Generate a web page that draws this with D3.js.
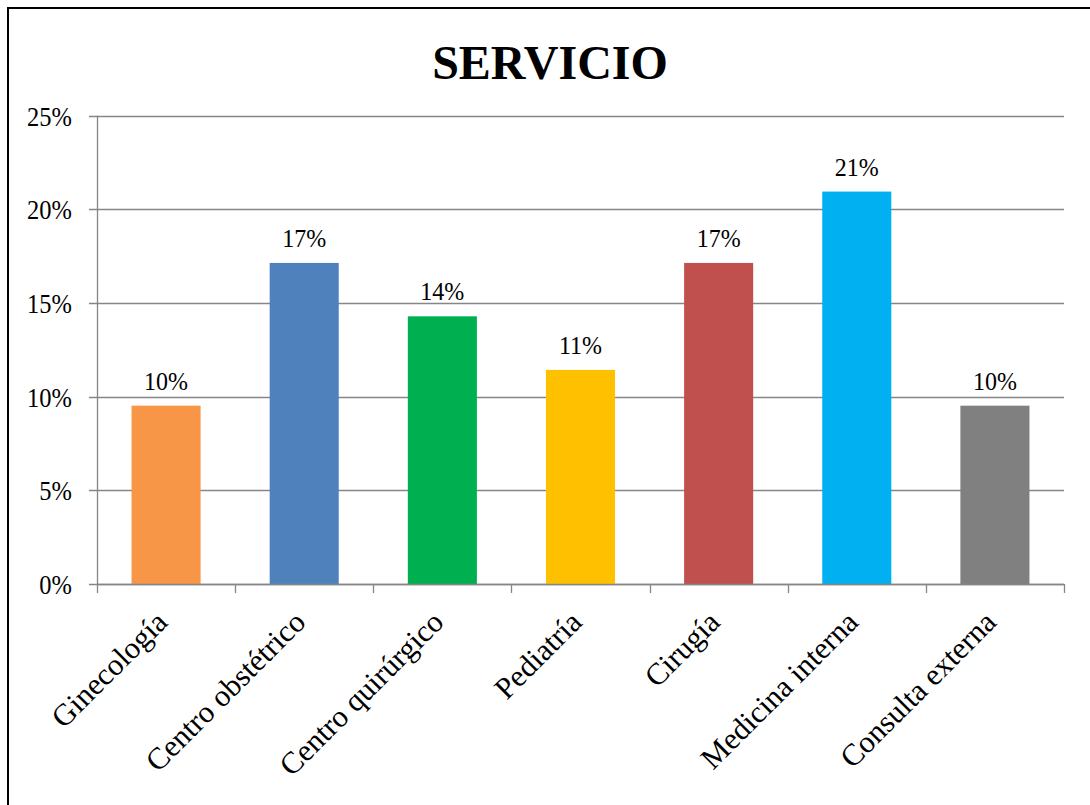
<!DOCTYPE html>
<html><head><meta charset="utf-8">
<script src="https://cdn.jsdelivr.net/npm/d3@7"></script>
<style>body{margin:0;background:#fff;} svg{display:block;}</style>
</head><body>
<script>
const categories = ["Ginecología","Centro obstétrico","Centro quirúrgico","Pediatría","Cirugía","Medicina interna","Consulta externa"];
const values = [9.52, 17.14, 14.29, 11.43, 17.14, 20.95, 9.52];
const labels = ["10%","17%","14%","11%","17%","21%","10%"];
const colors = ["#F79646","#4F81BD","#00B050","#FFC000","#C0504D","#00B0F0","#808080"];
const yTicks = [0,5,10,15,20,25];
const title = "SERVICIO";

const W=1090,H=805;
const svg=d3.select("body").append("svg").attr("width",W).attr("height",H);
const font="'Liberation Serif','Times New Roman',serif";
svg.append("rect").attr("x",8).attr("y",8).attr("width",W+10).attr("height",H+10)
  .attr("fill","#fff").attr("stroke","#000").attr("stroke-width",2);

const x=d3.scaleBand().domain(categories).range([97,1064]).paddingInner(0.5).paddingOuter(0.25);
const y=d3.scaleLinear().domain([0,25]).range([584,115.7]);

svg.append("text").attr("x",550).attr("y",79).attr("text-anchor","middle")
  .attr("font-family",font).attr("font-weight","bold").attr("font-size",48).text(title);

// gridlines
svg.append("g").selectAll("line").data(yTicks).join("line")
  .attr("x1",89).attr("x2",1064).attr("y1",d=>Math.round(y(d))+0.5).attr("y2",d=>Math.round(y(d))+0.5)
  .attr("stroke","#868686").attr("stroke-width",1.3);
// y labels
svg.append("g").selectAll("text").data(yTicks).join("text")
  .attr("transform",d=>`translate(72,${y(d)}) scale(1,1.12)`)
  .attr("dy","0.36em").attr("text-anchor","end")
  .attr("font-family",font).attr("font-size",24.5).text(d=>d+"%");
// y axis line
svg.append("line").attr("x1",97.5).attr("x2",97.5).attr("y1",y(25)).attr("y2",584)
  .attr("stroke","#868686").attr("stroke-width",1.3);

// bars
svg.append("g").selectAll("rect").data(categories).join("rect")
  .attr("x",d=>x(d)).attr("width",x.bandwidth())
  .attr("y",(d,i)=>y(values[i])).attr("height",(d,i)=>584-y(values[i]))
  .attr("fill",(d,i)=>colors[i]);

// x axis
svg.append("line").attr("x1",97).attr("x2",1064).attr("y1",584.5).attr("y2",584.5)
  .attr("stroke","#868686").attr("stroke-width",1.3);
const step=(1064-97)/categories.length;
const tickPos=d3.range(categories.length+1).map(i=>97+i*step);
svg.append("g").selectAll("line").data(tickPos).join("line")
  .attr("x1",d=>Math.round(d)+0.5).attr("x2",d=>Math.round(d)+0.5).attr("y1",584).attr("y2",593)
  .attr("stroke","#868686").attr("stroke-width",1.3);

// data labels
svg.append("g").selectAll("text").data(categories).join("text")
  .attr("transform",(d,i)=>`translate(${x(d)+x.bandwidth()/2},${y(values[i])-16}) scale(1,1.08)`)
  .attr("text-anchor","middle").attr("font-family",font).attr("font-size",24)
  .text((d,i)=>labels[i]);

// category labels
svg.append("g").selectAll("text").data(categories).join("text")
  .attr("transform",d=>`translate(${x(d)+x.bandwidth()/2+3},${624}) rotate(-45)`)
  .attr("text-anchor","end")
  .attr("font-family",font).attr("font-size",30.5).text(d=>d);
</script>
</body></html>
